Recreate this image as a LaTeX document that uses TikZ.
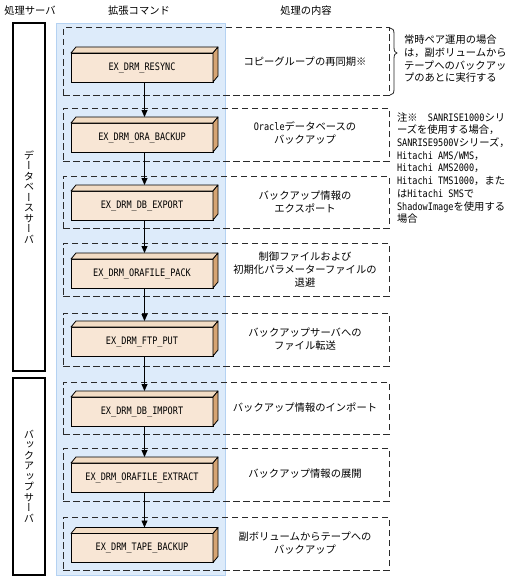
\documentclass[tikz,border=0pt]{standalone}
\usepackage{fontspec}
\usepackage{graphicx}
\setmainfont{Noto Sans CJK JP}
\newfontfamily\monofont[FakeStretch=0.83]{DejaVu Sans Mono}
\newfontfamily\vertfont[RawFeature=+vert]{Noto Sans CJK JP}
\newcommand\lt[1]{{\monofont #1}}
\usetikzlibrary{arrows.meta}
\definecolor{bluebg}{HTML}{DDEBFA}
\definecolor{blueln}{HTML}{B5D2F2}
\definecolor{facefront}{HTML}{F8E6D5}
\definecolor{facetop}{HTML}{F2DCC4}
\definecolor{faceside}{HTML}{D6A473}
\definecolor{dashcol}{HTML}{2A2A2A}
\begin{document}
\begin{tikzpicture}[x=1pt,y=-1pt,
  every node/.style={font=\fontsize{10.3}{12.7}\selectfont, inner sep=0pt, outer sep=0pt},
  srv/.style={draw=black, line width=1.4pt, minimum width=32pt},
  grp/.style={draw=dashcol, line width=1pt, dash pattern=on 6.5pt off 3.5pt, minimum width=326pt},
  cmd/.style={draw=black, line width=0.8pt, fill=facefront, minimum width=142pt, minimum height=29pt, font=\monofont\fontsize{10.3}{12}\selectfont},
  topf/.style={draw=black, line width=0.8pt, fill=facetop, line join=round},
  sidef/.style={draw=black, line width=0.8pt, fill=faceside, line join=round},
  arr/.style={draw=black, line width=0.8pt, -{Triangle[length=7pt,width=6pt]}},
  desc/.style={align=center},
  note/.style={align=left, anchor=west},
  vtext/.style={align=center, font=\vertfont\fontsize{10.3}{10.5}\selectfont}
]
\useasboundingbox (0,0) rectangle (512,578);
% headers
\node (h1) at (30,11) {処理サーバ};
\node (h2) at (139,11) {拡張コマンド};
\node (h3) at (306,11) {処理の内容};
% server boxes
\node[srv, minimum height=348pt] (s1) at (29,197) {};
\node[srv, minimum height=197pt] (s2) at (29,476.5) {};
\node[vtext] (v1) at (29,197) {デ\\ー\\タ\\ベ\\ー\\ス\\サ\\ー\\バ};
\node[vtext] (v2) at (29,476) {バ\\ッ\\ク\\ア\\ッ\\プ\\サ\\ー\\バ};
% blue area
\fill[bluebg, draw=blueln, line width=0.8pt] (56,23) rectangle (225,575);
% groups
\node[grp, minimum height=67pt] (g1) at (226,61.5) {};
\node[grp, minimum height=53pt] (g2) at (226,134.5) {};
\node[grp, minimum height=52pt] (g3) at (226,202) {};
\node[grp, minimum height=53pt] (g4) at (226,269.5) {};
\node[grp, minimum height=53pt] (g5) at (226,339.5) {};
\node[grp, minimum height=52pt] (g6) at (226,408) {};
\node[grp, minimum height=53pt] (g7) at (226,474.5) {};
\node[grp, minimum height=53pt] (g8) at (226,543.5) {};
% command boxes
\node[cmd] (c1) at (142,67.5) {EX\_DRM\_RESYNC};
\node[cmd] (c2) at (142,137.5) {EX\_DRM\_ORA\_BACKUP};
\node[cmd] (c3) at (142,205.5) {EX\_DRM\_DB\_EXPORT};
\node[cmd] (c4) at (142,273.5) {EX\_DRM\_ORAFILE\_PACK};
\node[cmd] (c5) at (142,341.5) {EX\_DRM\_FTP\_PUT};
\node[cmd] (c6) at (142,411.5) {EX\_DRM\_DB\_IMPORT};
\node[cmd] (c7) at (142,477.5) {EX\_DRM\_ORAFILE\_EXTRACT};
\node[cmd] (c8) at (142,548) {EX\_DRM\_TAPE\_BACKUP};
\foreach \n in {c1,c2,c3,c4,c5,c6,c7,c8}{
  \draw[topf] (\n.north west) -- ++(5,-6) -- ++(142,0) -- (\n.north east) -- cycle;
  \draw[sidef] (\n.north east) -- ++(5,-6) -- ++(0,29) -- (\n.south east) -- cycle;
}
% arrows
\foreach \a/\b in {c1/c2,c2/c3,c3/c4,c4/c5,c5/c6,c6/c7,c7/c8}{
  \draw[arr] ([xshift=2.5pt]\a.south) -- ([xshift=2.5pt,yshift=6pt]\b.north);
}
% descriptions
\node[desc] (d1) at (305,61.5) {コピーグループの再同期※};
\node[desc] (d2) at (305,133) {\lt{Oracle}データベースの\\バックアップ};
\node[desc] (d3) at (305,202) {バックアップ情報の\\エクスポート};
\node[desc] (d4) at (305,269.5) {制御ファイルおよび\\初期化パラメーターファイルの\\退避};
\node[desc] (d5) at (305,339) {バックアップサーバへの\\ファイル転送};
\node[desc] (d6) at (305,408) {バックアップ情報のインポート};
\node[desc] (d7) at (305,474) {バックアップ情報の展開};
\node[desc] (d8) at (305,543) {副ボリュームからテープへの\\バックアップ};
% brace
\draw[line width=0.8pt, black!85] (390,28) .. controls (393,28) and (394,30) .. (394,34) -- (394,47) .. controls (394,51) and (395,53) .. (397,53) .. controls (395,53) and (394,55) .. (394,59) -- (394,89) .. controls (394,93) and (393,95) .. (390,95);
% notes
\node[note] (n1) at (404,59) {常時ペア運用の場合\\は，副ボリュームから\\テープへのバックアッ\\プのあとに実行する};
\node[note] (n2) at (397,168) {注※　\lt{SANRISE1000}シリ\\ーズを使用する場合，\\\lt{SANRISE9500V}シリーズ，\\\lt{Hitachi AMS/WMS}，\\\lt{Hitachi AMS2000}，\\\lt{Hitachi TMS1000}，また\\は\lt{Hitachi SMS}で\\\lt{ShadowImage}を使用する\\場合};
\end{tikzpicture}
\end{document}
